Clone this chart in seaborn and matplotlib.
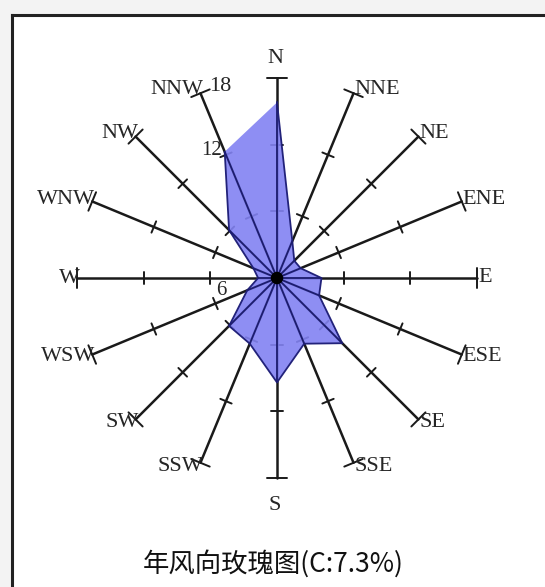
import numpy as np
import pandas as pd
import seaborn as sns
from matplotlib import pyplot as plt

# wind direction frequencies (%)
directions = ['N', 'NNE', 'NE', 'ENE', 'E', 'ESE', 'SE', 'SSE',
              'S', 'SSW', 'SW', 'WSW', 'W', 'WNW', 'NW', 'NNW']
freq = [15.8, 3.6, 2.2, 2.3, 4.0, 4.1, 8.3, 6.4,
        9.4, 6.4, 6.1, 2.9, 1.7, 2.3, 6.1, 12.3]
ring_ticks = [6, 12, 18]
r_max = 18
title = '年风向玫瑰图(C:7.3%)'

sns.set_theme(style='white')
plt.rcParams['font.family'] = ['Liberation Serif', 'DejaVu Serif']

theta = np.deg2rad(np.arange(len(directions)) * 22.5)
df = pd.DataFrame({'dir': directions, 'freq': freq, 'theta': theta})
df['x'] = df['freq'] * np.sin(df['theta'])
df['y'] = df['freq'] * np.cos(df['theta'])

W, H = 545, 587
px = 200 / r_max          # pixels per percent
cx, cy = 277, 278         # rose centre in pixels
left_px, top_px = 12, 15

fig = plt.figure(figsize=(W / 100, H / 100), dpi=100)
fig.patch.set_facecolor('#f3f3f3')
ax = fig.add_axes([left_px / W, 0, 1 - left_px / W, (H - top_px) / H])
ax.set_facecolor('white')
ax.set_xlim((left_px - cx) / px, (W - cx) / px)
ax.set_ylim(-(H - cy) / px, (cy - top_px) / px)
ax.set_xticks([])
ax.set_yticks([])
for side in ['right', 'bottom']:
    ax.spines[side].set_visible(False)
for side in ['left', 'top']:
    ax.spines[side].set_color('#222222')
    ax.spines[side].set_linewidth(2.2)

# axes of the rose with ticks
for t in theta:
    ux, uy = np.sin(t), np.cos(t)
    ax.plot([0, r_max * ux], [0, r_max * uy], color='#1a1a1a', lw=1.8, zorder=2)
    for r in ring_ticks:
        h = 0.9 if r == r_max else 0.55
        ax.plot([r * ux - h * uy, r * ux + h * uy],
                [r * uy + h * ux, r * uy - h * ux],
                color='#1a1a1a', lw=1.4, zorder=2)

# filled rose
poly = pd.concat([df, df.iloc[:1]])
ax.fill(poly['x'], poly['y'], color='#8282f2', alpha=0.9, zorder=3, lw=0)
sns.lineplot(data=poly, x='x', y='y', sort=False, color='#22227a',
             lw=1.3, ax=ax, zorder=4)
for _, row in df.iterrows():
    ax.plot([0, row['x']], [0, row['y']], color='#1c1c6e', lw=1.3, zorder=4)
ax.set_xlabel('')
ax.set_ylabel('')
sns.scatterplot(x=[0], y=[0], color='black', s=80, ax=ax, zorder=5,
                edgecolor='none')

# direction labels
fs = 16
for name, t in zip(directions, theta):
    ex, ey = r_max * np.sin(t), r_max * np.cos(t)
    if name == 'N':
        ax.annotate(name, (ex, ey), xytext=(-2, 10), textcoords='offset pixels',
                    ha='center', va='bottom', fontsize=fs)
    elif name == 'S':
        ax.annotate(name, (ex, ey), xytext=(-2, -18), textcoords='offset pixels',
                    ha='center', va='top', fontsize=fs)
    elif np.sin(t) > 0:
        ax.annotate(name, (ex, ey), xytext=(1, 4 * np.cos(t)),
                    textcoords='offset pixels', ha='left', va='center',
                    fontsize=fs)
    else:
        ax.annotate(name, (ex, ey), xytext=(3, 4 * np.cos(t)),
                    textcoords='offset pixels', ha='right', va='center',
                    fontsize=fs)

# scale labels
t_nnw = theta[-1]
ax.annotate(str(r_max), (r_max * np.sin(t_nnw), r_max * np.cos(t_nnw)),
            xytext=(9, 7), textcoords='offset pixels', ha='left',
            va='center', fontsize=fs)
ax.annotate(str(ring_ticks[1]), (12 * np.sin(t_nnw), 12 * np.cos(t_nnw)),
            xytext=(-4, 4), textcoords='offset pixels', ha='right',
            va='center', fontsize=15)
ax.annotate(str(ring_ticks[0]), (-5.0, 0), xytext=(0, -3),
            textcoords='offset pixels', ha='center', va='top', fontsize=15)

fig.text(273 / W, 1 - 564 / H, title, ha='center', va='center', fontsize=19,
         family=['Noto Sans CJK SC', 'DejaVu Sans'], color='#111111')

fig.savefig('out.png', dpi=100, facecolor=fig.get_facecolor())
